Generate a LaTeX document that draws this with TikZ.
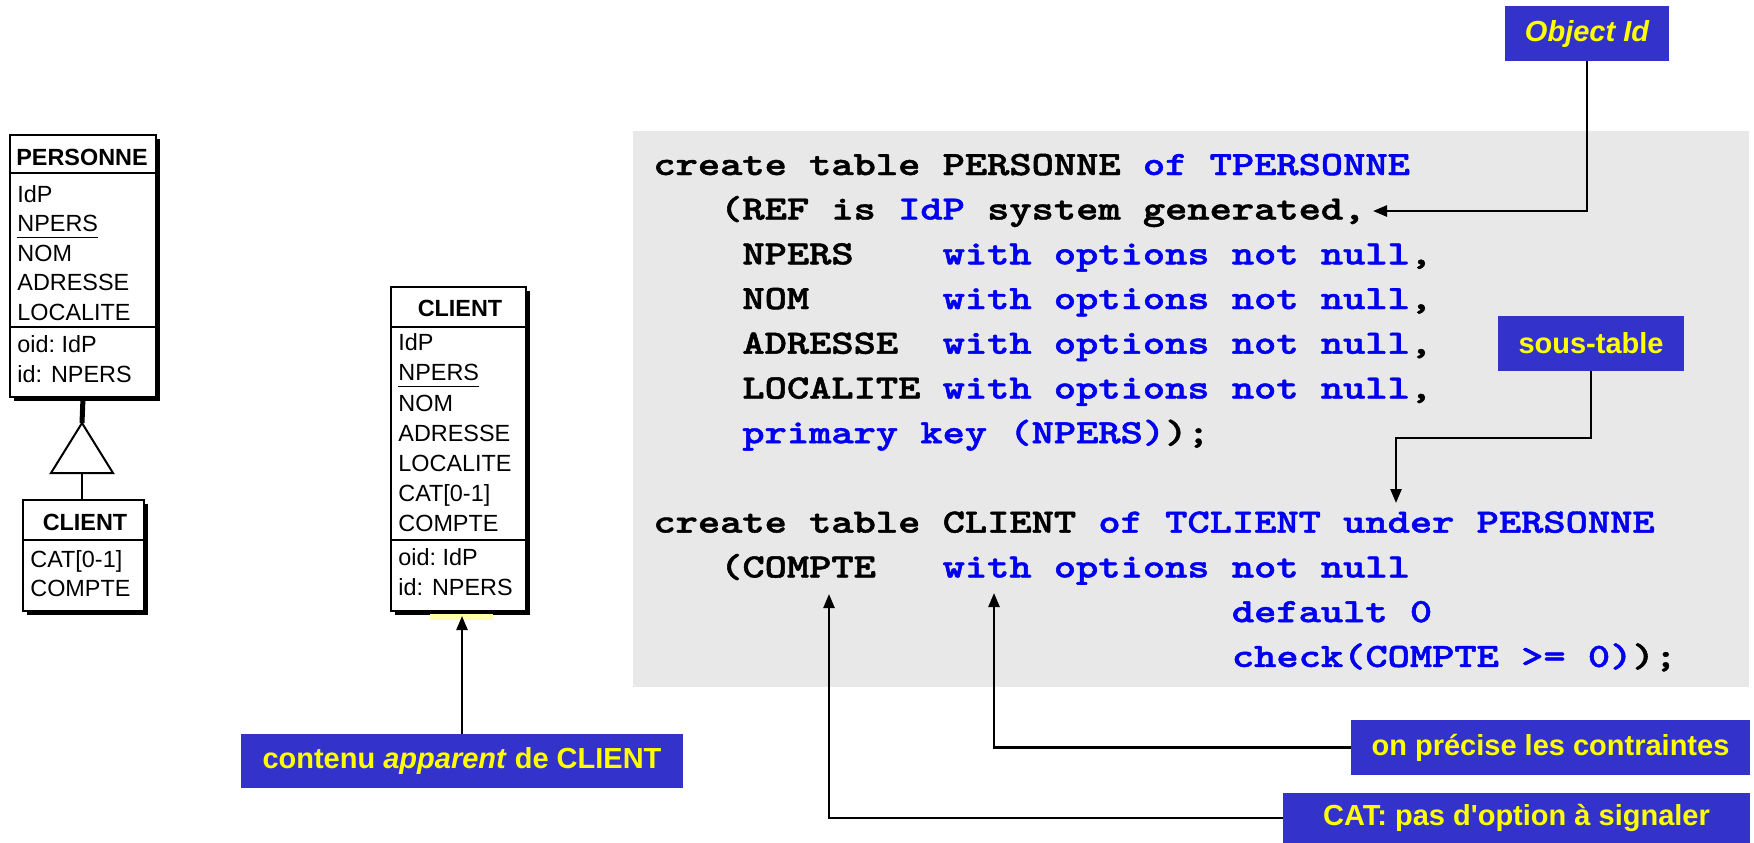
\documentclass[tikz,border=0pt]{standalone}
\usepackage{graphicx}
\usepackage{fontspec}
\setmainfont{Liberation Sans}[Ligatures=TeXOff]
\newfontfamily\codefont{lmmonolt10-bold.otf}[FakeBold=1.3]
\usetikzlibrary{arrows.meta,calc}
\frenchspacing
\definecolor{lblue}{RGB}{51,51,204}
\definecolor{lyellow}{RGB}{255,255,0}
\definecolor{codeblue}{RGB}{0,0,240}
\definecolor{greybg}{RGB}{232,232,232}
\definecolor{hlyellow}{RGB}{255,255,170}
\newcommand{\kw}[1]{\textcolor{codeblue}{#1}}
\newcommand{\codel}[1]{\scalebox{1.2465}[1]{#1}}
\newcommand{\myul}[1]{\setbox0\hbox{#1}\rlap{\rule[-3.2pt]{\wd0}{0.6pt}}\box0}
\tikzset{
  ent/.style={draw=black, line width=1pt, fill=white, inner sep=0pt, anchor=north west},
  attr/.style={anchor=base west, inner sep=0pt, font=\fontsize{11.7}{14}\selectfont},
  enthead/.style={anchor=base, inner sep=0pt, font=\bfseries\fontsize{11.7}{14}\selectfont},
  lbl/.style={fill=lblue, text=lyellow, inner sep=0pt, font=\bfseries\fontsize{14.5}{17}\selectfont},
  codeline/.style={anchor=base west, inner sep=0pt, font=\codefont\fontsize{17}{20}\selectfont},
  conn/.style={line width=1.2pt, -{Triangle[length=7pt,width=5.5pt]}},
}
\begin{document}
\begin{tikzpicture}[x=0.5pt,y=-0.5pt]
\useasboundingbox (0,0) rectangle (1754,842);

% grey code panel
\fill[greybg] (633,131) rectangle (1749,687);

% ---------- PERSONNE entity ----------
\fill[black] (14,139) rectangle (160,401);
\node[ent, minimum width=73pt, minimum height=131pt] (pers) at (9,134) {};
\draw[line width=1pt] (9,173) -- (155,173);
\draw[line width=1pt] (9,327) -- (155,327);
\node[enthead] (persh) at (82,165) {PERSONNE};
\node[attr] (p1) at (17,202) {IdP};
\node[attr] (p2) at (17,231.5) {\myul{NPERS}};
\node[attr] (p3) at (17,261) {NOM};
\node[attr] (p4) at (17,290.5) {ADRESSE};
\node[attr] (p5) at (17,320) {LOCALITE};
\node[attr] (p6) at (17,352) {oid: IdP};
\node[attr] (p7) at (17,382) {id:\hspace{4.5pt}NPERS};

% ---------- ISA ----------
\coordinate (isatop) at (82,423);
\coordinate (isabase) at (82,473);
\draw[line width=2.5pt] (pers.south) -- (isatop);
\draw[line width=1pt, fill=white] (isatop) -- (113,473) -- (51,473) -- cycle;

% ---------- CLIENT (subtype) ----------
\fill[black] (27,504) rectangle (148,615);
\node[ent, minimum width=60.5pt, minimum height=55.5pt] (cli1) at (22,499) {};
\draw[line width=1pt] (22,540) -- (143,540);
\draw[line width=1pt] (isabase) -- (isabase |- cli1.north);
\node[enthead] (c1h) at (85,530) {CLIENT};
\node[attr] (c11) at (30,567) {CAT[0-1]};
\node[attr] (c12) at (30,596) {COMPTE};

% ---------- CLIENT (apparent) ----------
\fill[black] (395,291) rectangle (530,615);
\node[ent, minimum width=67.5pt, minimum height=162pt] (cli2) at (390,286) {};
\draw[line width=1pt] (390,327) -- (525,327);
\draw[line width=1pt] (390,540) -- (525,540);
\node[enthead] (c2h) at (460,316) {CLIENT};
\node[attr] (c21) at (398,350) {IdP};
\node[attr] (c22) at (398,380.5) {\myul{NPERS}};
\node[attr] (c23) at (398,411) {NOM};
\node[attr] (c24) at (398,441) {ADRESSE};
\node[attr] (c25) at (398,471) {LOCALITE};
\node[attr] (c26) at (398,501) {CAT[0-1]};
\node[attr] (c27) at (398,531) {COMPTE};
\node[attr] (c28) at (398,565) {oid: IdP};
\node[attr] (c29) at (398,595) {id:\hspace{4.5pt}NPERS};
\fill[hlyellow] (430,614) rectangle (493,620);

% ---------- code ----------
\node[codeline] (l1) at (653,175) {\codel{create table PERSONNE \kw{of TPERSONNE}}};
\node[codeline] (l2) at (653,219.5) {\codel{~~~(REF is \kw{IdP} system generated,}};
\node[codeline] (l3) at (653,264.3) {\codel{~~~~NPERS~~~~\kw{with options not null},}};
\node[codeline] (l4) at (653,309) {\codel{~~~~NOM~~~~~~\kw{with options not null},}};
\node[codeline] (l5) at (653,353.7) {\codel{~~~~ADRESSE~~\kw{with options not null},}};
\node[codeline] (l6) at (653,398.5) {\codel{~~~~LOCALITE~\kw{with options not null},}};
\node[codeline] (l7) at (653,443.2) {\codel{~~~~\kw{primary key (NPERS)});}};
\node[codeline] (l9) at (653,532.6) {\codel{create table CLIENT \kw{of TCLIENT under PERSONNE}}};
\node[codeline] (l10) at (653,577.4) {\codel{~~~(COMPTE~~~\kw{with options not null}}};
\node[codeline] (l11) at (653,622.1) {\codel{~~~~~~~~~~~~~~~~~~~~~~~~~~\kw{default 0}}};
\node[codeline] (l12) at (653,666.9) {\codel{~~~~~~~~~~~~~~~~~~~~~~~~~~\kw{check(COMPTE >= 0)});}};

% ---------- labels ----------
\node[lbl, minimum width=82pt, minimum height=27.5pt] (objid) at (1587,33.5) {\itshape Object Id};
\node[lbl, minimum width=93pt, minimum height=27.5pt] (sous) at (1591,343.5) {sous-table};
\node[lbl, minimum width=199.5pt, minimum height=27.5pt] (contr) at (1550.5,747.5) {on précise les contraintes};
\node[lbl, minimum width=233.5pt, minimum height=25pt] (cat) at (1516.5,818) {CAT: pas d'option à signaler};
\node[lbl, minimum width=221pt, minimum height=27pt] (cont) at (462,761) {contenu \textit{apparent} de CLIENT};

% ---------- connectors ----------
\coordinate (tref) at (1373,211);
\coordinate (sbend) at (1396,438);
\coordinate (tsous) at (1396,503);
\coordinate (twith) at (994,593);
\coordinate (tcompte) at (829,594);
\coordinate (tcli) at (462,616);
\draw[conn] (objid.south) |- (tref);
\draw[conn] (sous.south) |- (sbend) -- (tsous);
\draw[conn] (contr.west) -| (twith);
\draw[conn] (cat.west) -| (tcompte);
\draw[conn] (cont.north) -- (tcli);
\end{tikzpicture}
\end{document}
